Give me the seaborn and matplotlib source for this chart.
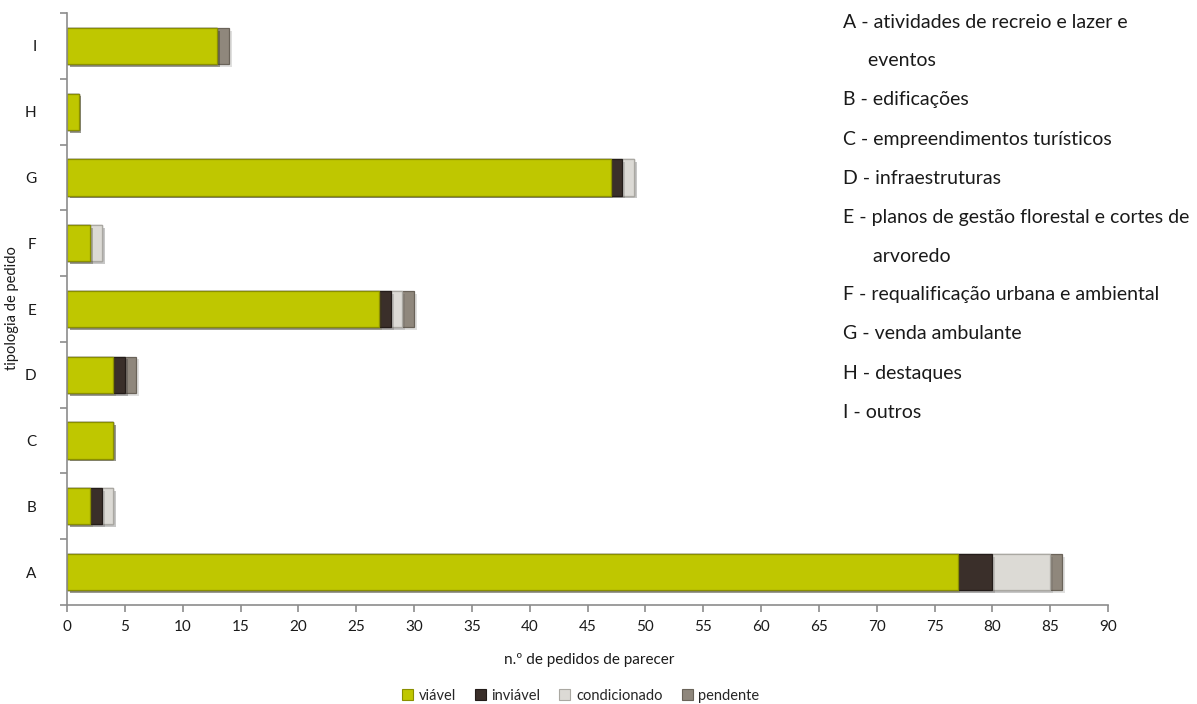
import matplotlib
matplotlib.use("Agg")
import matplotlib.pyplot as plt
import matplotlib.patheffects as pe
from matplotlib.patches import Patch
import numpy as np
import pandas as pd
import seaborn as sns

# Request types (bottom to top) and the outcome counts for each one
categories = ["A", "B", "C", "D", "E", "F", "G", "H", "I"]
viavel = [77, 2, 4, 4, 27, 2, 47, 1, 13]
inviavel = [3, 1, 0, 1, 1, 0, 1, 0, 0]
condicionado = [5, 1, 0, 0, 1, 1, 1, 0, 0]
pendente = [1, 0, 0, 1, 1, 0, 0, 0, 1]

series_names = ["viável", "inviável", "condicionado", "pendente"]
series_colors = ["#bfc700", "#3a2f2a", "#dcdad5", "#8f877c"]
edge_colors = ["#8a8f00", "#231c19", "#aaa8a2", "#6a6359"]

x_ticks = list(range(0, 91, 5))

category_notes = [
    "A - atividades de recreio e lazer e",
    "     eventos",
    "B - edificações",
    "C - empreendimentos turísticos",
    "D - infraestruturas",
    "E - planos de gestão florestal e cortes de",
    "      arvoredo",
    "F - requalificação urbana e ambiental",
    "G - venda ambulante",
    "H - destaques",
    "I - outros",
]

sns.set_theme(style="white")
plt.rcParams["font.family"] = ["Lato", "DejaVu Sans"]

df = pd.DataFrame({
    "tipologia": categories,
    "viável": viavel,
    "inviável": inviavel,
    "condicionado": condicionado,
    "pendente": pendente,
})
stack = df[series_names].cumsum(axis=1)
stack["tipologia"] = df["tipologia"]

fig = plt.figure(figsize=(11.97, 7.04), dpi=100)
ax = fig.add_axes([0.056, 0.1406, 0.8697, 0.8409])

order = categories[::-1]
shadow = [pe.SimplePatchShadow(offset=(2, -2), alpha=0.15), pe.Normal()]

# Stacked bars: draw cumulative totals back to front
for name, col, ec in reversed(list(zip(series_names, series_colors, edge_colors))):
    sns.barplot(data=stack, x=name, y="tipologia", order=order, orient="h",
                color=col, saturation=1, width=0.55, edgecolor=ec,
                linewidth=0.9, ax=ax)

for p in ax.patches:
    p.set_path_effects(shadow)

ax.set_xlim(0, 90)
ax.set_ylim(len(categories) - 0.5, -0.5)
ax.set_xticks(x_ticks)
ax.set_xticklabels([str(t) for t in x_ticks], fontsize=11, color="#1a1a1a")
ax.set_yticks(range(len(order)))
ax.set_yticklabels(order, fontsize=11, color="#1a1a1a")
ax.set_yticks(np.arange(-0.5, len(order), 1.0), minor=True)

axis_grey = "#8c8c8c"
for side in ["top", "right"]:
    ax.spines[side].set_visible(False)
for side in ["left", "bottom"]:
    ax.spines[side].set_color(axis_grey)
    ax.spines[side].set_linewidth(1.2)

ax.tick_params(axis="x", which="major", length=5, width=1.2, color=axis_grey,
               direction="out", bottom=True, pad=6)
ax.tick_params(axis="y", which="major", length=0, pad=22)
ax.tick_params(axis="y", which="minor", length=5, width=1.2, color=axis_grey,
               direction="out", left=True)

ax.set_xlabel("")
ax.set_ylabel("")
fig.text(0.4925, 0.0625, "n.º de pedidos de parecer", ha="center", va="center",
         fontsize=11, color="#1a1a1a")
fig.text(0.010, 0.5625, "tipologia de pedido", rotation=90, ha="center",
         va="center", fontsize=10.5, color="#1a1a1a")

# Category descriptions on the right
y0 = 1 - 22 / 704
step = 39 / 704
for i, line in enumerate(category_notes):
    fig.text(0.704, y0 - i * step, line, ha="left", va="center",
             fontsize=14, color="#1a1a1a")

handles = [Patch(facecolor=c, edgecolor=e, linewidth=0.8)
           for c, e in zip(series_colors, edge_colors)]
fig.legend(handles, series_names, loc="center", bbox_to_anchor=(0.485, 0.012),
           ncol=4, frameon=False, fontsize=10.5, handlelength=0.75,
           handleheight=0.75, handletextpad=0.4, columnspacing=1.3)

fig.savefig("out.png", dpi=100)
